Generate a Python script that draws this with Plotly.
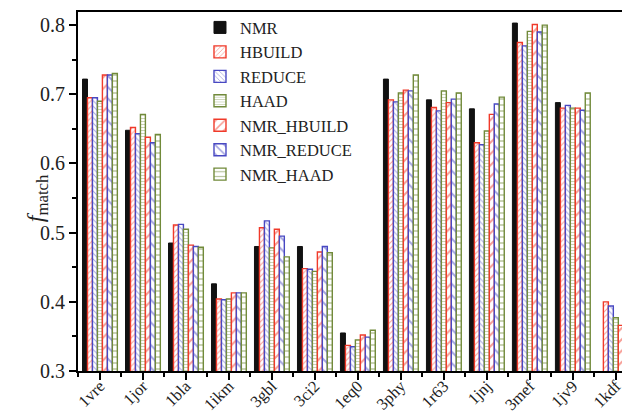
import plotly.graph_objects as go

categories = ["1vre", "1jor", "1bla", "1ikm", "3gbl", "3ci2", "1eq0",
              "3phy", "1r63", "1jnj", "3mef", "1jv9", "1kdf"]

nmr        = [0.722, 0.648, 0.485, 0.426, 0.480, 0.480, 0.355, 0.722, 0.692, 0.679, 0.803, 0.688, None]
hbuild     = [0.695, 0.652, 0.511, 0.404, 0.507, 0.448, 0.337, 0.692, 0.681, 0.630, 0.775, 0.680, 0.400]
reduce_    = [0.695, 0.643, 0.512, 0.403, 0.517, 0.447, 0.335, 0.689, 0.676, 0.627, 0.770, 0.684, 0.394]
haad       = [0.690, 0.671, 0.505, 0.404, 0.478, 0.444, 0.345, 0.702, 0.705, 0.647, 0.791, 0.680, 0.377]
nmr_hbuild = [0.728, 0.638, 0.482, 0.413, 0.505, 0.472, 0.352, 0.706, 0.688, 0.671, 0.801, 0.680, 0.366]
nmr_reduce = [0.728, 0.630, 0.480, 0.413, 0.495, 0.480, 0.349, 0.705, 0.693, 0.686, 0.790, 0.677, 0.365]
nmr_haad   = [0.730, 0.642, 0.479, 0.413, 0.465, 0.471, 0.359, 0.728, 0.702, 0.696, 0.800, 0.702, 0.374]

RED = "#f03a2a"
BLUE = "#4848c2"
GREEN = "#718a3a"

series = [
    ("NMR", nmr, "#111111", None, 6),
    ("HBUILD", hbuild, RED, "/", 4),
    ("REDUCE", reduce_, BLUE, "\\", 4),
    ("HAAD", haad, GREEN, "-", 3),
    ("NMR_HBUILD", nmr_hbuild, RED, "/", 8),
    ("NMR_REDUCE", nmr_reduce, BLUE, "\\", 8),
    ("NMR_HAAD", nmr_haad, GREEN, "-", 6),
]

xs = list(range(len(categories)))
fig = go.Figure()
for name, vals, col, shape, size in series:
    if shape is None:
        marker = dict(color=col, line=dict(color=col, width=1))
    else:
        marker = dict(color="white", line=dict(color=col, width=1.4),
                      pattern=dict(shape=shape, fgcolor=col, bgcolor="white",
                                   size=size, solidity=0.25))
    fig.add_trace(go.Bar(x=xs, y=vals, name=name, marker=marker))

# page body has an 8px margin, so the figure is sized to fill the rest of the window
fig.update_layout(
    width=622, height=407,
    margin=dict(l=70, r=0, t=4, b=44, autoexpand=False),
    paper_bgcolor="white", plot_bgcolor="white",
    barmode="group", bargap=0.19, bargroupgap=0,
    font=dict(family="Liberation Serif", color="#222222"),
    showlegend=True,
    legend=dict(x=0.221, y=1.005, xanchor="left", yanchor="top",
                font=dict(family="Liberation Serif", size=16.5, color="#222222"),
                bgcolor="rgba(0,0,0,0)", tracegroupgap=0, itemwidth=30),
    xaxis=dict(range=[-0.51, 12.33], tickmode="array", tickvals=xs, ticktext=categories,
               tickangle=-45, tickfont=dict(size=16.5, family="Liberation Serif"),
               ticklabelstandoff=-10, automargin=False,
               showline=True, linecolor="black", linewidth=2, mirror=True,
               ticks="outside", ticklen=7, tickwidth=2, tickcolor="black",
               showgrid=False, zeroline=False,
               minor=dict(tick0=0.5, dtick=1, ticks="outside", ticklen=4,
                          tickwidth=1.5, tickcolor="black", showgrid=False)),
    yaxis=dict(range=[0.3, 0.819], tickvals=[0.3, 0.4, 0.5, 0.6, 0.7, 0.8],
               ticktext=["0.3", "0.4", "0.5", "0.6", "0.7", "0.8"],
               tickfont=dict(size=20, family="Liberation Serif"),
               automargin=False,
               showline=True, linecolor="black", linewidth=2, mirror=False,
               ticks="outside", ticklen=7, tickwidth=2, tickcolor="black",
               showgrid=False, zeroline=False,
               minor=dict(tick0=0.35, dtick=0.1, ticks="outside", ticklen=4,
                          tickwidth=1.5, tickcolor="black", showgrid=False)),
    annotations=[dict(text="<i>f</i><sub>match</sub>", textangle=-90,
                      xref="paper", yref="paper", x=-0.075, y=0.48,
                      xanchor="center", yanchor="middle", showarrow=False,
                      font=dict(size=24, family="Liberation Serif", color="#222222"))],
)

fig.write_html("out.html")
